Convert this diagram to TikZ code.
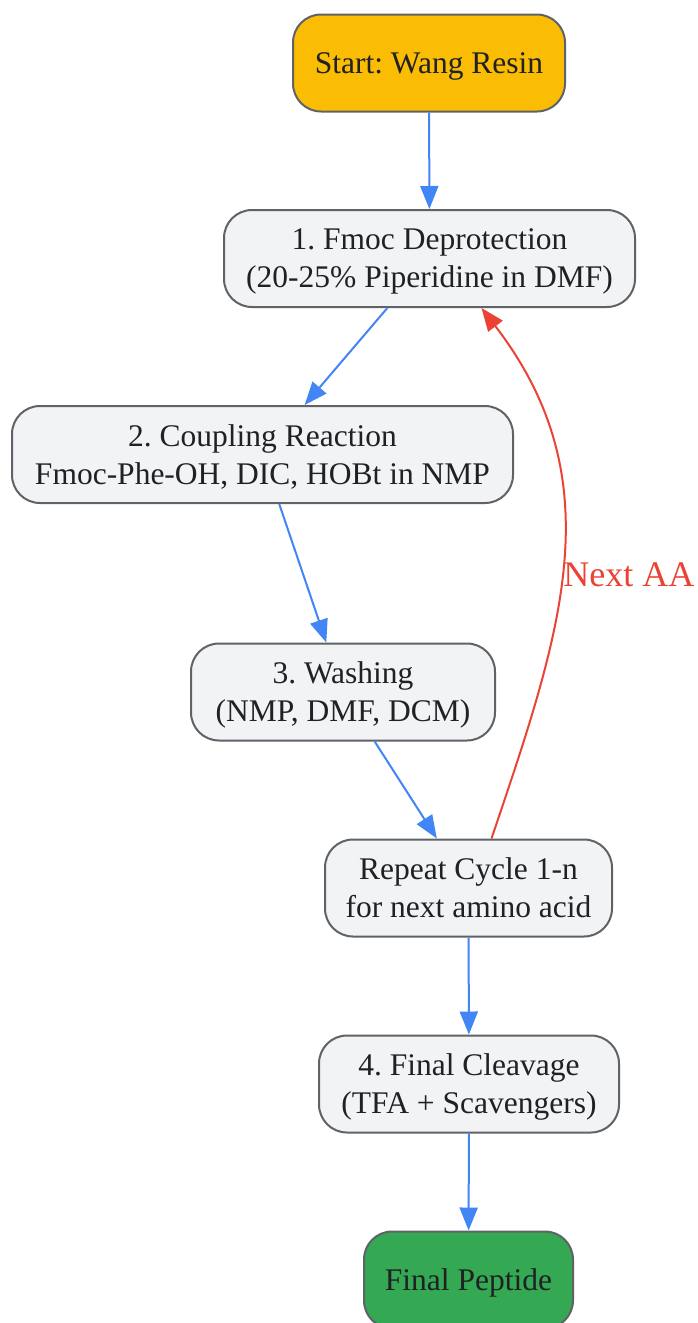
\documentclass[tikz,border=0pt]{standalone}
\usepackage{fontspec}
\setmainfont{Liberation Serif}
\frenchspacing
\usetikzlibrary{arrows.meta, positioning}
\definecolor{StartYellow}{RGB}{251, 188, 4}
\definecolor{DoneGreen}{RGB}{52, 168, 83}
\definecolor{FlowBlue}{RGB}{66, 133, 244}
\definecolor{LoopRed}{RGB}{234, 67, 53}
\definecolor{BoxGray}{RGB}{241, 243, 244}
\definecolor{EdgeGray}{RGB}{95, 99, 104}
\definecolor{InkDark}{RGB}{32, 33, 36}

\begin{document}
\begin{tikzpicture}[x=1pt, y=-1pt,
        stepbox/.style={draw=EdgeGray, line width=2pt, fill=BoxGray, rounded corners=28pt,
            minimum height=97pt, align=center, inner sep=0pt, text=InkDark, text depth=0pt,
            font=\fontsize{31.5}{38}\selectfont},
        flow/.style={-{Triangle[length=23pt, width=18pt]}, line width=2pt, FlowBlue},
        loopback/.style={-{Triangle[length=23pt, width=18pt]}, line width=2pt, LoopRed}]
            \useasboundingbox (0,0) rectangle (697,1323);

            % Start and end of the synthesis
            \node[stepbox, fill=StartYellow, minimum width=272pt] (start) at (429,63) {Start: Wang Resin};
            \node[stepbox, fill=DoneGreen, minimum width=209pt] (peptide) at (468.5,1280) {Final Peptide};

            % Cycle steps
            \node[stepbox, minimum width=411pt] (deprot) at (429.5,258.5)
                {1. Fmoc Deprotection\\(20-25\% Piperidine in DMF)};
            \node[stepbox, minimum width=501pt] (coupling) at (262.5,454.5)
                {2. Coupling Reaction\\Fmoc-Phe-OH, DIC, HOBt in NMP};
            \node[stepbox, minimum width=304pt] (washing) at (343,692)
                {3. Washing\\(NMP, DMF, DCM)};
            \node[stepbox, minimum width=287pt] (repeat) at (468.5,888)
                {Repeat Cycle 1-n\\for next amino acid};
            \node[stepbox, minimum width=300pt] (cleavage) at (469,1084)
                {4. Final Cleavage\\(TFA + Scavengers)};

            % Forward flow
            \draw[flow] (start) -- (deprot);
            \draw[flow] (deprot) -- (coupling);
            \draw[flow] (coupling) -- (washing);
            \draw[flow] (washing) -- (repeat);
            \draw[flow] (repeat) -- (cleavage);
            \draw[flow] (cleavage) -- (peptide);

            % Loop back for the next amino acid
            \draw[loopback] ([xshift=23pt]repeat.north) .. controls (562,630) and (614,481) .. ([xshift=52pt]deprot.south)
                node[pos=0.47, anchor=west, inner sep=1pt, text=LoopRed, font=\fontsize{36}{42}\selectfont] (nextlbl) {Next AA};
\end{tikzpicture}
\end{document}
